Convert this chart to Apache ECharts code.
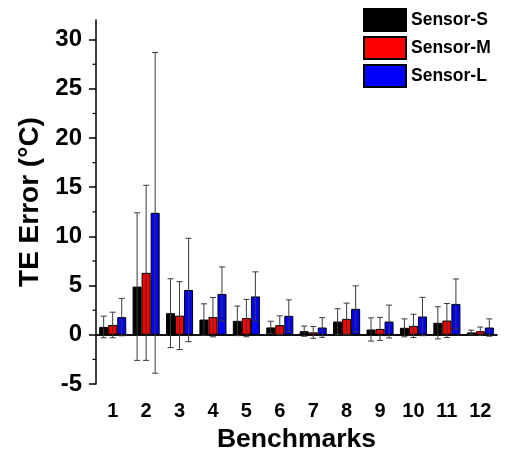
<!DOCTYPE html>
<html>
<head>
<meta charset="utf-8">
<script src="https://cdn.jsdelivr.net/npm/echarts@6/dist/echarts.min.js"></script>
<style>
  html, body { margin: 0; padding: 0; background: #fff; }
  #chart { width: 505px; height: 460px; }
</style>
</head>
<body>
<div id="chart"></div>
<script>
var benchmarks = ['1', '2', '3', '4', '5', '6', '7', '8', '9', '10', '11', '12'];
var seriesNames = ['Sensor-S', 'Sensor-M', 'Sensor-L'];
var sensorS = [0.8, 4.9, 2.2, 1.55, 1.42, 0.75, 0.37, 1.35, 0.54, 0.71, 1.22, 0.24];
var sensorM = [1.0, 6.3, 1.95, 1.8, 1.7, 0.98, 0.25, 1.62, 0.6, 0.91, 1.45, 0.37];
var sensorL = [1.8, 12.4, 4.56, 4.15, 3.9, 1.93, 0.74, 2.64, 1.35, 1.86, 3.14, 0.74];
var errS = [1.1, 7.5, 3.5, 1.6, 1.5, 0.63, 0.52, 1.3, 1.18, 0.91, 1.63, 0.23];
var errM = [1.3, 8.9, 3.45, 2.0, 1.9, 0.95, 0.6, 1.6, 1.17, 1.18, 1.73, 0.42];
var errL = [1.9, 16.3, 5.25, 2.75, 2.5, 1.62, 1.0, 2.33, 1.67, 1.95, 2.54, 0.88];
var yTicks = [-5, 0, 5, 10, 15, 20, 25, 30];
var yMinorTicks = [-2.5, 2.5, 7.5, 12.5, 17.5, 22.5, 27.5];

var colors = ['#000000', '#ff0000', '#0000ff'];
var means = [sensorS, sensorM, sensorL];
var errs = [errS, errM, errL];
var catGap = 0.19;
var font = '"Liberation Sans", Arial, sans-serif';

function errorSeries(k) {
    var data = [];
    for (var i = 0; i < benchmarks.length; i++) {
        data.push([i, means[k][i] - errs[k][i], means[k][i] + errs[k][i]]);
    }
    return {
        type: 'custom',
        name: seriesNames[k] + ' err',
        z: 5,
        silent: true,
        data: data,
        renderItem: function (params, api) {
            var idx = api.value(0);
            var lo = api.coord([idx, api.value(1)]);
            var hi = api.coord([idx, api.value(2)]);
            var bw = api.size([1, 0])[0] * (1 - catGap) / 3;
            var x = lo[0] + (k - 1) * bw;
            var cap = 3;
            var style = { stroke: '#3a3a3a', lineWidth: 1 };
            return {
                type: 'group',
                children: [
                    { type: 'line', shape: { x1: x, y1: hi[1], x2: x, y2: lo[1] }, style: style },
                    { type: 'line', shape: { x1: x - cap, y1: hi[1], x2: x + cap, y2: hi[1] }, style: style },
                    { type: 'line', shape: { x1: x - cap, y1: lo[1], x2: x + cap, y2: lo[1] }, style: style }
                ]
            };
        }
    };
}

// minor ticks of the y axis, placed through the axis scales
var minorTickSeries = {
    type: 'custom',
    name: 'minor ticks',
    silent: true,
    clip: false,
    z: 6,
    data: yMinorTicks.map(function (v) { return [0, v]; }),
    renderItem: function (params, api) {
        var p = api.coord([0, api.value(1)]);
        var left = p[0] - api.size([1, 0])[0] / 2;
        return {
            type: 'line',
            shape: { x1: left - 3.5, y1: p[1], x2: left, y2: p[1] },
            style: { stroke: '#000', lineWidth: 1.2 }
        };
    }
};

var series = [];
for (var k = 0; k < 3; k++) {
    var s = {
        name: seriesNames[k],
        type: 'bar',
        data: means[k],
        barGap: '0%',
        barCategoryGap: (catGap * 100) + '%',
        itemStyle: { color: colors[k], borderColor: '#000', borderWidth: 1 }
    };
    if (k === 0) {
        s.markLine = {
            silent: true,
            symbol: 'none',
            label: { show: false },
            lineStyle: { color: '#000', width: 1.5, type: 'solid' },
            data: [{ yAxis: 0 }]
        };
    }
    series.push(s);
}
for (var k = 0; k < 3; k++) series.push(errorSeries(k));
series.push(minorTickSeries);

var chart = echarts.init(document.getElementById('chart'));
chart.setOption({
    animation: false,
    backgroundColor: '#fff',
    textStyle: { fontFamily: font },
    grid: { left: 96, right: 8, top: 20, bottom: 76 },
    legend: {
        data: seriesNames,
        orient: 'vertical',
        left: 358,
        top: 3,
        itemWidth: 42,
        itemHeight: 22,
        itemGap: 4,
        icon: 'rect',
        textStyle: { color: '#000', fontSize: 17.5, fontWeight: 'bold' }
    },
    xAxis: {
        type: 'category',
        data: benchmarks,
        name: 'Benchmarks',
        nameLocation: 'middle',
        nameGap: 37,
        nameTextStyle: { color: '#000', fontSize: 26.5, fontWeight: 'bold' },
        axisLine: { lineStyle: { color: '#000', width: 1.5 } },
        axisTick: { alignWithLabel: true, length: 6, lineStyle: { color: '#000', width: 1.5 } },
        axisLabel: { color: '#000', fontSize: 20, fontWeight: 'bold', margin: 17 }
    },
    yAxis: {
        type: 'value',
        min: -5,
        max: 32,
        interval: 5,
        name: 'TE Error (°C)',
        nameLocation: 'middle',
        nameGap: 50,
        nameTextStyle: { color: '#000', fontSize: 28, fontWeight: 'bold' },
        splitLine: { show: false },
        axisLine: { show: true, lineStyle: { color: '#000', width: 1.5 } },
        axisTick: { show: true, length: 7, customValues: yTicks, lineStyle: { color: '#000', width: 1.5 } },
        axisLabel: { color: '#000', fontSize: 24, fontWeight: 'bold', margin: 14, customValues: yTicks }
    },
    series: series
});
</script>
</body>
</html>
